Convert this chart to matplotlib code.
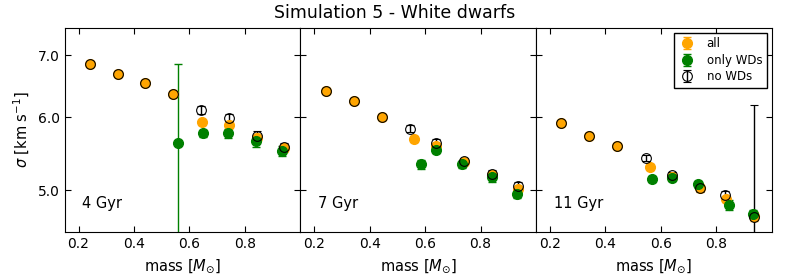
import matplotlib
matplotlib.use('Agg')
import matplotlib.pyplot as plt
from matplotlib.ticker import FixedLocator, NullLocator, FormatStrFormatter

# ages of the three panels
ages = ['4 Gyr', '7 Gyr', '11 Gyr']

# 4 Gyr
mass_all_4 = [0.242, 0.343, 0.441, 0.541, 0.645, 0.742, 0.842, 0.940]
sig_all_4 = [6.86, 6.69, 6.54, 6.36, 5.92, 5.89, 5.70, 5.55]
err_all_4 = [0.04, 0.04, 0.04, 0.05, 0.04, 0.05, 0.05, 0.05]
mass_wd_4 = [0.560, 0.648, 0.740, 0.840, 0.933]
sig_wd_4 = [5.62, 5.76, 5.76, 5.65, 5.51]
err_wd_4 = [1.23, 0.05, 0.07, 0.08, 0.07]
mass_nowd_4 = [0.242, 0.343, 0.441, 0.541, 0.643, 0.741, 0.842, 0.940]
sig_nowd_4 = [6.86, 6.69, 6.54, 6.36, 6.11, 5.99, 5.73, 5.57]
err_nowd_4 = [0.04, 0.04, 0.04, 0.05, 0.06, 0.06, 0.06, 0.06]

# 7 Gyr
mass_all_7 = [0.242, 0.343, 0.443, 0.560, 0.640, 0.742, 0.842, 0.935]
sig_all_7 = [6.41, 6.25, 6.00, 5.68, 5.58, 5.36, 5.19, 5.01]
err_all_7 = [0.04, 0.04, 0.04, 0.04, 0.04, 0.04, 0.04, 0.04]
mass_wd_7 = [0.585, 0.640, 0.733, 0.842, 0.930]
sig_wd_7 = [5.33, 5.52, 5.33, 5.16, 4.95]
err_wd_7 = [0.06, 0.04, 0.05, 0.06, 0.05]
mass_nowd_7 = [0.242, 0.343, 0.443, 0.545, 0.640, 0.742, 0.842, 0.935]
sig_nowd_7 = [6.41, 6.25, 6.00, 5.83, 5.63, 5.37, 5.21, 5.05]
err_nowd_7 = [0.04, 0.04, 0.04, 0.05, 0.05, 0.05, 0.05, 0.05]

# 11 Gyr
mass_all_11 = [0.242, 0.343, 0.443, 0.560, 0.640, 0.742, 0.835, 0.935]
sig_all_11 = [5.91, 5.73, 5.58, 5.29, 5.17, 5.03, 4.89, 4.68]
err_all_11 = [0.03, 0.03, 0.03, 0.04, 0.04, 0.04, 0.04, 0.05]
mass_wd_11 = [0.570, 0.640, 0.733, 0.845, 0.933]
sig_wd_11 = [5.14, 5.15, 5.07, 4.82, 4.71]
err_wd_11 = [0.04, 0.04, 0.05, 0.06, 0.05]
mass_nowd_11 = [0.242, 0.343, 0.443, 0.545, 0.640, 0.742, 0.830, 0.935]
sig_nowd_11 = [5.91, 5.73, 5.58, 5.42, 5.19, 5.02, 4.94, 4.67]
err_nowd_11 = [0.03, 0.03, 0.03, 0.04, 0.04, 0.04, 0.05, 1.52]

panels = [
    (mass_all_4, sig_all_4, err_all_4, mass_wd_4, sig_wd_4, err_wd_4, mass_nowd_4, sig_nowd_4, err_nowd_4),
    (mass_all_7, sig_all_7, err_all_7, mass_wd_7, sig_wd_7, err_wd_7, mass_nowd_7, sig_nowd_7, err_nowd_7),
    (mass_all_11, sig_all_11, err_all_11, mass_wd_11, sig_wd_11, err_wd_11, mass_nowd_11, sig_nowd_11, err_nowd_11),
]

xticks = [0.2, 0.4, 0.6, 0.8]
yticks = [5.0, 6.0, 7.0]

fig, axes = plt.subplots(1, 3, figsize=(7.89, 2.79), dpi=100, sharey=True)
fig.subplots_adjust(left=0.082, right=0.978, bottom=0.168, top=0.9, wspace=0)

for i, ax in enumerate(axes):
    ma, sa, ea, mw, sw, ew, mn, sn, en = panels[i]
    ax.errorbar(ma, sa, yerr=ea, fmt='o', color='orange', mec='orange', ms=7,
                capsize=3, elinewidth=1, label='all')
    ax.errorbar(mw, sw, yerr=ew, fmt='o', color='green', mec='green', ms=7,
                capsize=3, elinewidth=1, label='only WDs')
    ax.errorbar(mn, sn, yerr=en, fmt='o', color='black', mfc='none', mec='black', ms=7,
                capsize=3, elinewidth=1, mew=0.8, label='no WDs')
    ax.set_yscale('log')
    ax.set_ylim(4.5, 7.5)
    ax.set_xlim(0.15, 1.0)
    ax.yaxis.set_major_locator(FixedLocator(yticks))
    ax.yaxis.set_minor_locator(NullLocator())
    ax.yaxis.set_major_formatter(FormatStrFormatter('%.1f'))
    ax.set_xticks(xticks)
    ax.tick_params(direction='in', top=True, right=True, labelsize=10, length=4)
    ax.set_xlabel(r'mass [$M_{\odot}$]', fontsize=10.5)
    ax.text(0.075, 0.14, ages[i], transform=ax.transAxes, fontsize=10.5, va='center')
    if i > 0:
        ax.tick_params(labelleft=False)

axes[0].set_ylabel(r'$\sigma$ [km s$^{-1}$]', fontsize=10.5)
axes[2].legend(loc='upper right', numpoints=1, fontsize=8.5, fancybox=False,
               edgecolor='black', framealpha=1, borderaxespad=0.4,
               handlelength=1.5, handletextpad=0.9, labelspacing=0.3,
               borderpad=0.4)
fig.suptitle('Simulation 5 - White dwarfs', fontsize=12.5, y=0.985)

plt.savefig('out.png', dpi=100)
